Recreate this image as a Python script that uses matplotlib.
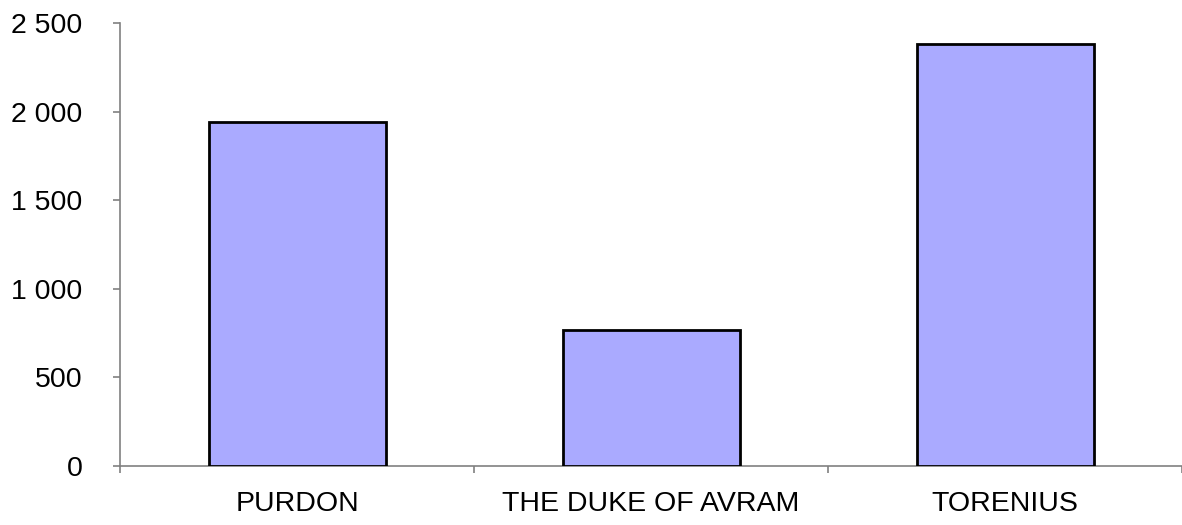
import numpy as np
import matplotlib.pyplot as plt
from matplotlib.ticker import FuncFormatter, FixedLocator

# Data
categories = ["PURDON", "THE DUKE OF AVRAM", "TORENIUS"]
values = [1940, 767, 2382]
y_ticks = [0, 500, 1000, 1500, 2000, 2500]

plt.rcParams['font.family'] = ['Liberation Sans', 'DejaVu Sans']

fig = plt.figure(figsize=(11.82, 5.25), dpi=100)
W, H = 1182, 525
ax = fig.add_axes([120 / W, (H - 466) / H, (W - 120) / W, (466 - 23) / H])

x = np.arange(len(categories))
ax.bar(x, values, width=0.5, color='#AAAAFF', edgecolor='black', linewidth=2, zorder=3)

ax.set_xlim(-0.5, len(categories) - 0.5)
ax.set_ylim(0, 2500)
ax.set_yticks(y_ticks)
ax.yaxis.set_major_formatter(FuncFormatter(lambda v, p: f"{int(v):,}".replace(",", " ")))

ax.set_xticks(x)
ax.set_xticklabels(categories)
ax.xaxis.set_minor_locator(FixedLocator(np.arange(-0.5, len(categories), 1.0)))

for side in ['top', 'right']:
    ax.spines[side].set_visible(False)
for side in ['left', 'bottom']:
    ax.spines[side].set_color('#808080')
    ax.spines[side].set_linewidth(1.2)

ax.tick_params(axis='y', length=5, width=1.2, color='#808080', labelsize=20.5, pad=22)
ax.tick_params(axis='x', which='major', length=0, labelsize=20.5, pad=18)
ax.tick_params(axis='x', which='minor', length=5, width=1.2, color='#808080')

fig.savefig("out.png", dpi=100)
